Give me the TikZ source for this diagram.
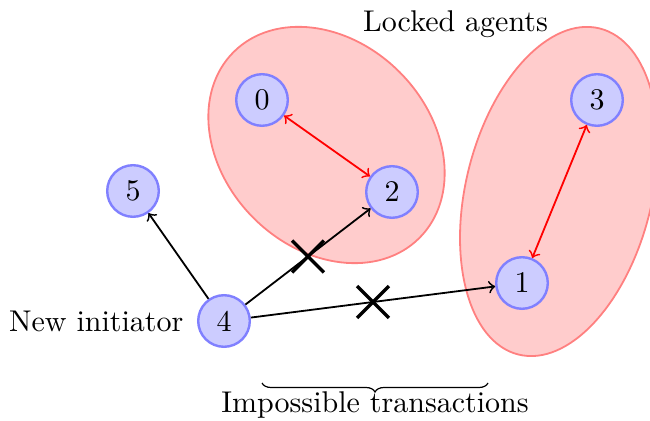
\documentclass[tikz,border=0pt]{standalone}
\usetikzlibrary{shapes.misc,decorations.pathreplacing}
\begin{document}
\begin{tikzpicture}[x=0.3333pt,y=-0.3333pt,
  agent/.style={circle,draw=blue!50,fill=blue!20,thick,minimum size=17.2pt,inner sep=0pt},
  group/.style={draw=red!50,fill=red!20,semithick},
  tr/.style={->,semithick},
  lock/.style={<->,red,semithick},
  xmark/.style={cross out,draw,line width=1.1pt,minimum size=9.5pt,inner sep=0pt}]
\useasboundingbox (0,0) rectangle (650,421);
% locked groups
\coordinate (c1) at (326.5,145);
\coordinate (c2) at (559,191.5);
\draw[group,rotate around={-45:(c1)}] (c1) ellipse [x radius=43.8pt,y radius=34.4pt];
\draw[group,rotate around={76:(c2)}] (c2) ellipse [x radius=56pt,y radius=31pt];
% agents
\node[agent] (n0) at (262,100) {0};
\node[agent] (n2) at (392,192) {2};
\node[agent] (n3) at (597,100) {3};
\node[agent] (n1) at (522,283) {1};
\node[agent] (n5) at (133,191) {5};
\node[agent] (n4) at (224,321) {4};
% connectors
\draw[lock] (n0) -- (n2);
\draw[lock] (n3) -- (n1);
\draw[tr] (n4) -- (n5);
\draw[tr] (n4) -- node[xmark] (x1) {} (n2);
\draw[tr] (n4) -- node[xmark] (x2) {} (n1);
% labels
\node[anchor=east] (ni) at ([xshift=-1pt]n4.west) {New initiator};
\node[anchor=base] (la) at (455.5,32) {Locked agents};
\coordinate (b1) at (262,383);
\coordinate (b2) at (488,383);
\draw[decorate,decoration={brace,mirror,amplitude=3pt}] (b1) -- (b2);
\node[anchor=base] (it) at (375,413) {Impossible transactions};
\end{tikzpicture}
\end{document}
